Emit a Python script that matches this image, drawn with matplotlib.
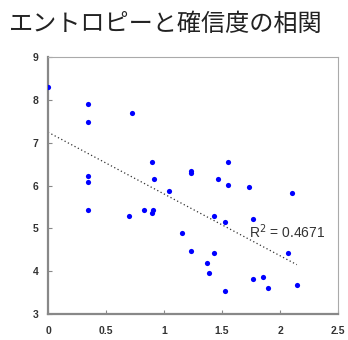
import numpy as np
import matplotlib
matplotlib.use("Agg")
import matplotlib.pyplot as plt

plt.rcParams['font.family'] = ['Noto Sans CJK JP', 'DejaVu Sans']

title = "エントロピーと確信度の相関"
entropy = [0.0, 0.346, 0.346, 0.72, 0.346, 0.346, 0.90, 0.91, 1.04,
           0.346, 0.70, 0.83, 0.905, 0.90,
           1.237, 1.237, 1.55, 1.466, 1.55, 1.735, 2.10,
           1.43, 1.53, 1.77, 1.157, 1.237, 1.43, 1.372, 1.39,
           1.53, 1.77, 1.85, 1.90, 2.07, 2.145]
confidence = [8.30, 7.90, 7.49, 7.70, 6.22, 6.08, 6.56, 6.16, 5.88,
              5.42, 5.29, 5.42, 5.42, 5.35,
              6.35, 6.30, 6.56, 6.16, 6.02, 5.96, 5.82,
              5.29, 5.15, 5.21, 4.88, 4.47, 4.43, 4.20, 3.95,
              3.54, 3.81, 3.87, 3.60, 4.43, 3.68]
xticks = [0, 0.5, 1, 1.5, 2, 2.5]
xticklabels = ["0", "0.5", "1", "1.5", "2", "2.5"]
yticks = [3, 4, 5, 6, 7, 8, 9]
r2_label = "R$^2$ = 0.4671"

x = np.array(entropy)
y = np.array(confidence)

fig = plt.figure(figsize=(3.48, 3.40), dpi=100)
ax = fig.add_axes([48/348, 1 - 314/340, (338-48)/348, (314-57)/340])

slope, intercept = np.polyfit(x, y, 1)
xl = np.array([0, x.max()])
ax.plot(xl, slope * xl + intercept, linestyle=(0, (1, 2)), color='#333333', linewidth=0.9)
ax.scatter(x, y, s=14, color='#0000ff', zorder=3, linewidths=0)

ax.set_xlim(0, 2.5)
ax.set_ylim(3, 9)
ax.set_xticks(xticks)
ax.set_xticklabels(xticklabels)
ax.set_yticks(yticks)
ax.tick_params(direction='in', length=3, width=0.8, color='#888888',
               labelsize=7.5)
ax.tick_params(axis='x', pad=9)
ax.tick_params(axis='y', pad=7)
for lab in ax.get_xticklabels() + ax.get_yticklabels():
    lab.set_family('Liberation Sans')
    lab.set_fontweight('bold')
    lab.set_color('#333333')
for s in ['left', 'bottom']:
    ax.spines[s].set_color('#888888')
    ax.spines[s].set_linewidth(1.6)
for s in ['top', 'right']:
    ax.spines[s].set_color('#aaaaaa')
    ax.spines[s].set_linewidth(0.8)

ax.text(1.73, 4.93, r2_label, fontsize=10, family='Liberation Sans',
        color='#333333', va='center')

fig.text(9/348, 1 - 24/340, title, fontsize=17.4, va='center', ha='left', color='#222222')

fig.savefig('out.png', dpi=100)
